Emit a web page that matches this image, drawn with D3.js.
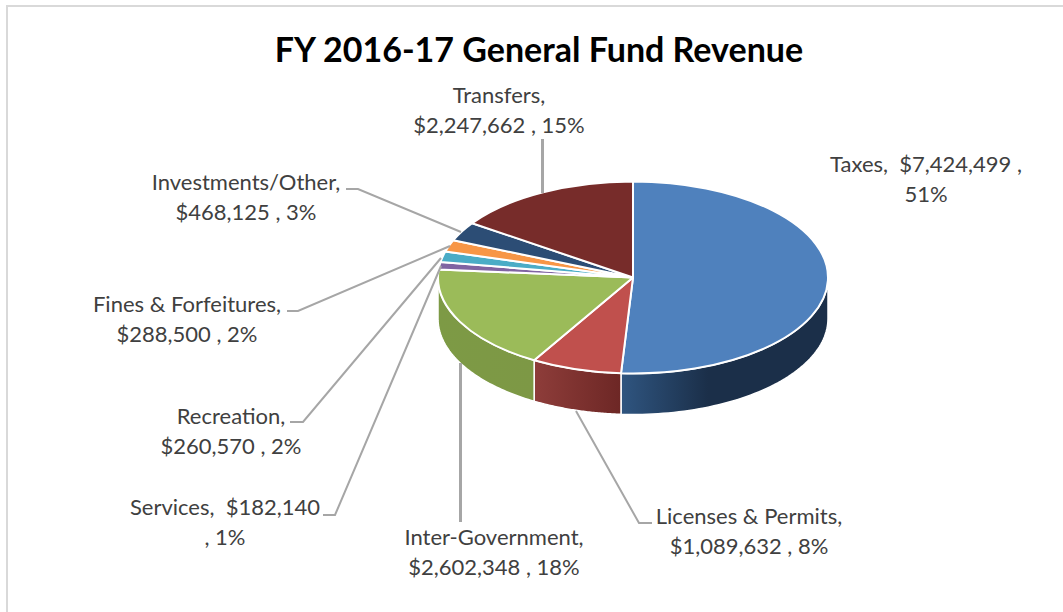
<!DOCTYPE html>
<html>
<head>
<meta charset="utf-8">
<script src="https://cdnjs.cloudflare.com/ajax/libs/d3/7.8.5/d3.min.js"></script>
<style>
    html, body { margin: 0; padding: 0; background: #fff; overflow: hidden; }
    text { font-family: Lato, "Open Sans", sans-serif; }
</style>
</head>
<body>
<div id="chart"></div>
<script>
// Data, clockwise from 12 o'clock
const categories = ["Taxes", "Licenses & Permits", "Inter-Government", "Services",
                    "Recreation", "Fines & Forfeitures", "Investments/Other", "Transfers"];
const revenue = [7424499, 1089632, 2602348, 182140, 260570, 288500, 468125, 2247662];
const percents = [51, 8, 18, 1, 2, 2, 3, 15];
const titleText = "FY 2016-17 General Fund Revenue";

// Colors (top face, wall at left, wall at right, where the wall gradient ends)
const topColors = ["#4f81bd", "#c0504d", "#9bbb59", "#8064a2", "#4bacc6", "#f79646", "#2c4d75", "#772c2a"];
const wallLeft = ["#2f5580", "#8e3d3a", "#7d9a45", "#5f4a7a", "#3a8296", "#b96f33", "#203a58", "#5a201f"];
const wallRight = ["#1b2f49", "#6d2725", "#7d9845", "#5f4a7a", "#3a8296", "#b96f33", "#203a58", "#5a201f"];
const wallStop = ["42%", "100%", "100%", "100%", "100%", "100%", "100%", "100%"];

// Label layout: text lines centered on x, first baseline at y
const labelLayout = [
    { x: 926, y: 172, lines: d => [`Taxes,  ${d.money} ,`, `${d.pct}%`] },
    { x: 749, y: 524, lines: d => [`Licenses & Permits,`, `${d.money} , ${d.pct}%`] },
    { x: 494, y: 545, lines: d => [`Inter-Government,`, `${d.money} , ${d.pct}%`] },
    { x: 225, y: 515, lines: d => [`Services,  ${d.money}`, `, ${d.pct}%`] },
    { x: 231, y: 424, lines: d => [`Recreation,`, `${d.money} , ${d.pct}%`] },
    { x: 187, y: 312, lines: d => [`Fines & Forfeitures,`, `${d.money} , ${d.pct}%`] },
    { x: 246, y: 190, lines: d => [`Investments/Other,`, `${d.money} , ${d.pct}%`] },
    { x: 499, y: 103, lines: d => [`Transfers,`, `${d.money} , ${d.pct}%`] }
];

// Leader lines, from the label to the slice
const leaderLayout = [
    null,
    [[652, 523], [639, 523], [576, 411]],
    [[460.5, 522], [460.5, 363]],
    [[323, 515], [335, 515], [441, 266]],
    [[290, 422], [303, 422], [441, 258]],
    [[287, 311], [298, 311], [450, 246]],
    [[346, 189], [358, 189], [461, 232]],
    [[542.5, 139], [542.5, 193]]
];

// Configuration
const width = 1063;
const height = 612;
const cx = 633;
const cy = 277.5;
const rx = 195;
const ry = 96;
const depth = 41;
const lineHeight = 29.5;

const svg = d3.select("#chart")
    .append("svg")
    .attr("width", width)
    .attr("height", height);

// Chart frame, open at the bottom and right like the source crop
svg.append("path")
    .attr("d", "M7,612V6H1063")
    .attr("fill", "none")
    .attr("stroke", "#d9d9d9")
    .attr("stroke-width", 2);

svg.append("text")
    .attr("x", 539)
    .attr("y", 62)
    .attr("text-anchor", "middle")
    .attr("font-size", 34)
    .attr("font-weight", "bold")
    .attr("fill", "#000")
    .text(titleText);

const data = categories.map((name, i) => ({
    name,
    value: revenue[i],
    pct: percents[i],
    money: d3.format("$,")(revenue[i]),
    index: i
}));

const pie = d3.pie().sort(null).value(d => d.value);
const arcs = pie(data);

// Point on the squashed ellipse; angle measured clockwise from 12 o'clock
const px = a => cx + rx * Math.sin(a);
const py = a => cy - ry * Math.cos(a);

// Wall gradients
const defs = svg.append("defs");
arcs.forEach(d => {
    const grad = defs.append("linearGradient")
        .attr("id", `wall-${d.index}`)
        .attr("x1", "0%").attr("x2", "100%")
        .attr("y1", "0%").attr("y2", "0%");
    grad.append("stop").attr("offset", "0%").attr("stop-color", wallLeft[d.index]);
    grad.append("stop").attr("offset", wallStop[d.index]).attr("stop-color", wallRight[d.index]);
});

// Draw front walls (only the part of each slice facing the viewer)
function wallPath(a0, a1) {
    const steps = d3.range(0, 61).map(i => a0 + (a1 - a0) * i / 60);
    const topEdge = steps.map(a => [px(a), py(a)]);
    const bottomEdge = steps.slice().reverse().map(a => [px(a), py(a) + depth]);
    return d3.line()(topEdge.concat(bottomEdge)) + "Z";
}

const walls = svg.append("g").attr("class", "walls");
arcs.forEach(d => {
    const a0 = Math.max(d.startAngle, Math.PI / 2);
    const a1 = Math.min(d.endAngle, Math.PI * 1.5);
    if (a1 <= a0) return;
    walls.append("path")
        .attr("d", wallPath(a0, a1))
        .attr("fill", `url(#wall-${d.index})`)
        .attr("stroke", "#fff")
        .attr("stroke-width", 1.5)
        .attr("stroke-linejoin", "round");
});

// Top face: a normal d3 arc, squashed vertically
const arcGen = d3.arc().innerRadius(0).outerRadius(rx);
svg.append("g")
    .attr("class", "slices")
    .attr("transform", `translate(${cx}, ${cy}) scale(1, ${ry / rx})`)
    .selectAll("path")
    .data(arcs)
    .join("path")
    .attr("d", arcGen)
    .attr("fill", d => topColors[d.index])
    .attr("stroke", "#fff")
    .attr("stroke-width", 2)
    .attr("vector-effect", "non-scaling-stroke")
    .attr("stroke-linejoin", "round");

// Leader lines (the two straight vertical ones read heavier in the source)
const lineGen = d3.line();
svg.append("g")
    .attr("class", "leaders")
    .selectAll("path")
    .data(leaderLayout.filter(d => d))
    .join("path")
    .attr("d", d => lineGen(d))
    .attr("fill", "none")
    .attr("stroke", "#a6a6a6")
    .attr("stroke-width", d => d.length === 2 ? 3 : 2);

// Labels
const labels = svg.append("g").attr("class", "labels");
data.forEach((d, i) => {
    const layout = labelLayout[i];
    const t = labels.append("text")
        .attr("text-anchor", "middle")
        .attr("font-size", 22)
        .attr("fill", "#404040");
    layout.lines(d).forEach((line, j) => {
        t.append("tspan")
            .attr("x", layout.x)
            .attr("y", layout.y + j * lineHeight)
            .style("white-space", "pre")
            .text(line);
    });
});
</script>
</body>
</html>
